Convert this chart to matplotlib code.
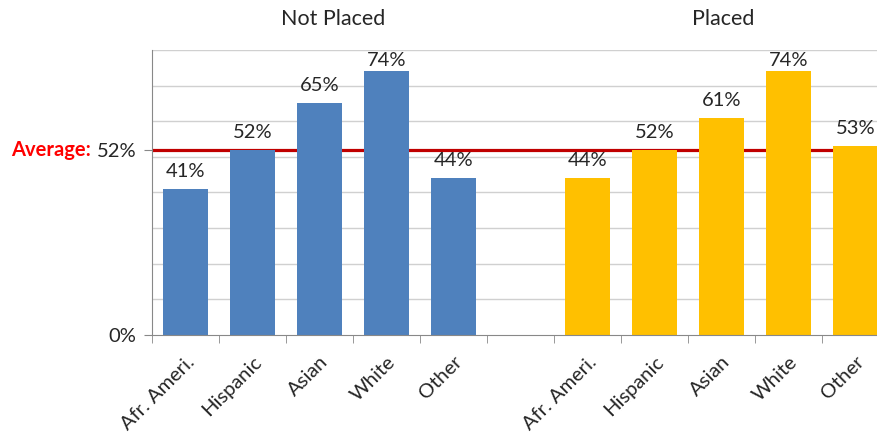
import matplotlib
matplotlib.use("Agg")
import matplotlib.pyplot as plt
import matplotlib.transforms as mtransforms
import numpy as np

plt.rcParams['font.family'] = ['Lato', 'DejaVu Sans']

groups = ["Not Placed", "Placed"]
categories = ["Afr. Ameri.", "Hispanic", "Asian", "White", "Other"]
not_placed = [41, 52, 65, 74, 44]
placed = [44, 52, 61, 74, 53]
average = 52

blue = "#4F81BD"
gold = "#FFC000"
txt = "#262626"

fig = plt.figure(figsize=(8.78, 4.4), dpi=100)
ax = fig.add_axes([152 / 878, 105 / 440, 737 / 878, 285 / 440])

x_np = np.arange(len(categories))
x_p = x_np + len(categories) + 1
ax.bar(x_np, not_placed, width=0.66, color=blue, zorder=3)
ax.bar(x_p, placed, width=0.66, color=gold, zorder=3)

ax.set_xlim(-0.5, len(categories) * 2 + 0.5)
ax.set_ylim(0, 80)

# average line behind the bars
ax.axhline(average, color="#C00000", lw=2.3, zorder=2)

# value labels, kept inside the plot area like Excel does
for xs, vals in ((x_np, not_placed), (x_p, placed)):
    for xi, v in zip(xs, vals):
        y = min(v + 3.4, 75.5)
        ax.text(xi, y, f"{v}%", ha="center", va="baseline", fontsize=14.5,
                color=txt, zorder=4)

# gridlines
ax.set_yticks(np.arange(0, 81, 10), minor=True)
ax.grid(which="minor", axis="y", color="#D0D0D0", lw=1, zorder=0)
ax.set_yticks([0, average])
ax.set_yticklabels(["0%", f"{average}%"], fontsize=14.5, color=txt)
ax.tick_params(axis="y", which="major", length=6, color="#888888", pad=5)
ax.tick_params(axis="y", which="minor", length=0)

# "Average:" just left of the 52% tick label
fig.canvas.draw()
bb = ax.get_yticklabels()[1].get_window_extent()
ax.text(bb.x0 - 6, average, "Average:",
        transform=mtransforms.blended_transform_factory(
            mtransforms.IdentityTransform(), ax.transData),
        ha="right", va="center", fontsize=14.5, fontweight="bold", color="#FF0000")

# x ticks: labels at centres, marks at boundaries
all_x = np.concatenate([x_np, x_p])
ax.set_xticks(all_x)
ax.set_xticklabels(categories * 2, rotation=45, ha="right",
                   rotation_mode="anchor", fontsize=14.5, color=txt)
ax.tick_params(axis="x", which="major", length=0, pad=13)
ax.set_xticks(np.arange(-0.5, len(categories) * 2 + 1, 1), minor=True)
ax.tick_params(axis="x", which="minor", length=6, color="#888888")

for s in ("top", "right"):
    ax.spines[s].set_visible(False)
for s in ("left", "bottom"):
    ax.spines[s].set_color("#888888")
    ax.spines[s].set_zorder(5)

# group titles
ax.text(2.2, 1.11, groups[0], transform=ax.get_xaxis_transform(),
        ha="center", va="center", fontsize=15.5, color=txt)
ax.text(8.02, 1.11, groups[1], transform=ax.get_xaxis_transform(),
        ha="center", va="center", fontsize=15.5, color=txt)

fig.savefig("out.png", dpi=100)
